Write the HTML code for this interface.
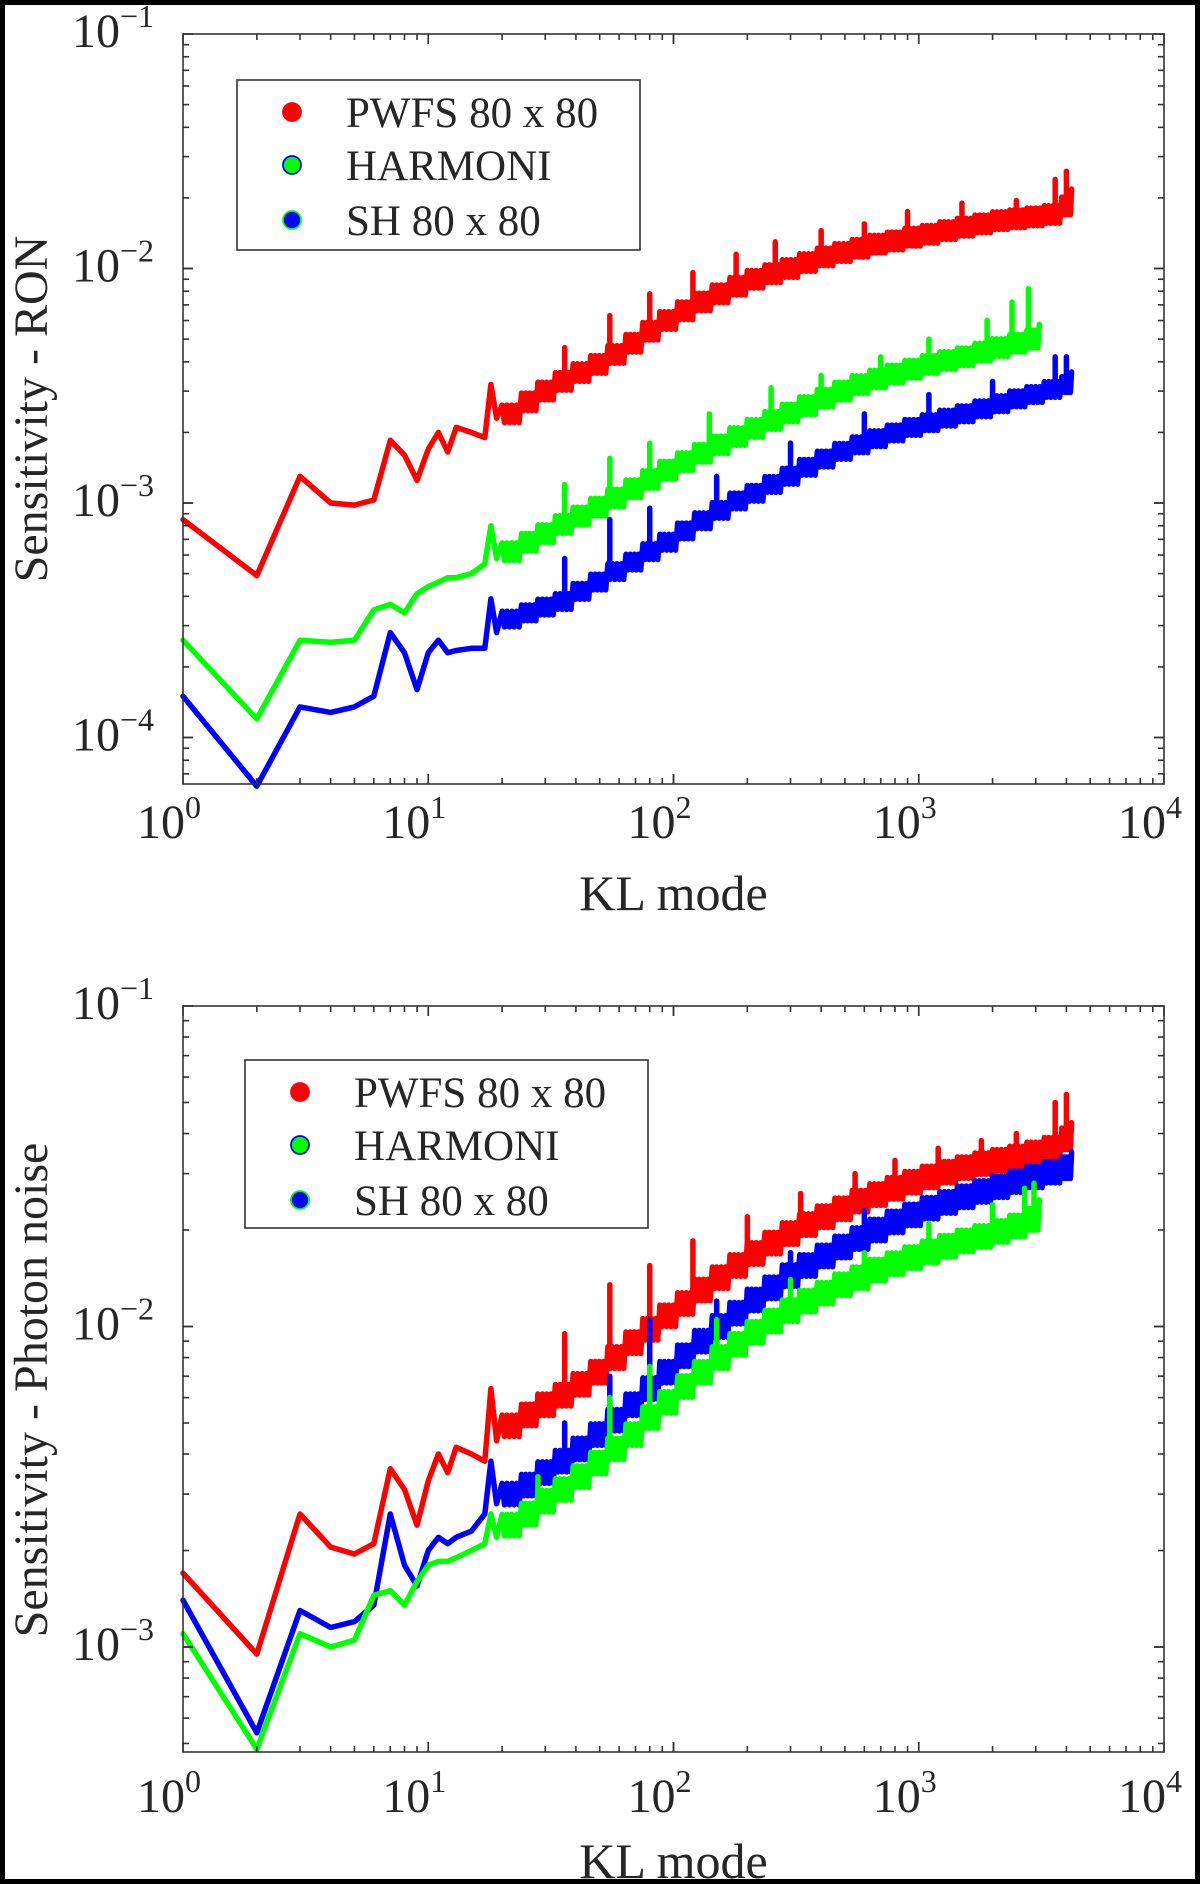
<!DOCTYPE html>
<html><head><meta charset="utf-8"><style>
html,body{margin:0;padding:0;background:#fff}
#wrap{position:relative;width:1200px;height:1884px;box-sizing:border-box;border:5px solid #000;overflow:hidden;background:#fff}
svg{position:absolute;left:-5px;top:-5px}
text{font-family:"Liberation Serif",serif;fill:#262626}
</style></head><body>
<div id="wrap">
<svg id="svg" width="1200" height="1884" viewBox="0 0 1200 1884" xmlns="http://www.w3.org/2000/svg"></svg>
</div>
<script>
// ---------- data ----------
const earlyModes = [1,2,3,4,5,6,7,8,9,10,11,12,13,15,17,18,19];
const denseModesLong = [20,24,28,33,39,46,54,64,75,88,104,122,144,170,200,236,278,327,386,455,536,632,745,878,1035,1220,1438,1695,2000,2350,2760,3250,3830,4200];
const denseModesShort = [20,24,28,33,39,46,54,64,75,88,104,122,144,170,200,236,278,327,386,455,536,632,745,878,1035,1220,1438,1695,2000,2350,2760,3100];

// Top: RON
const ronPwfsEarly = [8.5e-4,4.9e-4,1.3e-3,1.0e-3,9.8e-4,1.03e-3,1.85e-3,1.6e-3,1.25e-3,1.7e-3,2.0e-3,1.65e-3,2.1e-3,2.0e-3,1.9e-3,3.2e-3,2.3e-3];
const ronPwfsDense = [2.4e-3,2.7e-3,3.0e-3,3.3e-3,3.6e-3,3.9e-3,4.3e-3,4.8e-3,5.4e-3,6.0e-3,6.6e-3,7.2e-3,7.8e-3,8.4e-3,9.0e-3,9.5e-3,1.0e-2,1.06e-2,1.12e-2,1.17e-2,1.22e-2,1.27e-2,1.31e-2,1.36e-2,1.40e-2,1.45e-2,1.5e-2,1.55e-2,1.6e-2,1.63e-2,1.66e-2,1.7e-2,1.85e-2,2.0e-2];
const ronPwfsSpikeModes = [36,55,80,120,180,260,400,600,900,1500,2500,3600,4000];
const ronPwfsSpikeVals = [4.6e-3,6.3e-3,7.8e-3,9.6e-3,1.15e-2,1.3e-2,1.45e-2,1.55e-2,1.75e-2,1.9e-2,1.95e-2,2.4e-2,2.6e-2];
const ronHarmEarly = [2.6e-4,1.2e-4,2.6e-4,2.55e-4,2.6e-4,3.5e-4,3.7e-4,3.4e-4,4.1e-4,4.4e-4,4.6e-4,4.8e-4,4.8e-4,5.0e-4,5.5e-4,8.0e-4,5.8e-4];
const ronHarmDense = [6.2e-4,6.8e-4,7.4e-4,8.1e-4,8.8e-4,9.6e-4,1.05e-3,1.15e-3,1.26e-3,1.38e-3,1.5e-3,1.63e-3,1.77e-3,1.92e-3,2.08e-3,2.25e-3,2.42e-3,2.6e-3,2.8e-3,3.0e-3,3.2e-3,3.38e-3,3.55e-3,3.72e-3,3.9e-3,4.05e-3,4.2e-3,4.4e-3,4.6e-3,4.8e-3,5.0e-3,5.3e-3];
const ronHarmSpikeModes = [36,55,80,140,250,400,700,1100,1900,2400,2800];
const ronHarmSpikeVals = [1.2e-3,1.55e-3,1.8e-3,2.4e-3,3.1e-3,3.5e-3,4.2e-3,5.0e-3,6.0e-3,7.2e-3,8.2e-3];
const ronShEarly = [1.5e-4,6.2e-5,1.35e-4,1.28e-4,1.35e-4,1.5e-4,2.8e-4,2.3e-4,1.6e-4,2.3e-4,2.6e-4,2.3e-4,2.35e-4,2.4e-4,2.4e-4,3.9e-4,2.8e-4];
const ronShDense = [3.2e-4,3.4e-4,3.6e-4,3.8e-4,4.2e-4,4.6e-4,5.1e-4,5.6e-4,6.2e-4,6.8e-4,7.6e-4,8.4e-4,9.3e-4,1.02e-3,1.1e-3,1.2e-3,1.3e-3,1.42e-3,1.54e-3,1.66e-3,1.77e-3,1.88e-3,1.99e-3,2.1e-3,2.2e-3,2.3e-3,2.4e-3,2.52e-3,2.65e-3,2.78e-3,2.9e-3,3.05e-3,3.2e-3,3.35e-3];
const ronShSpikeModes = [36,55,80,150,300,600,1100,2000,3600,4000];
const ronShSpikeVals = [5.8e-4,8.5e-4,9.5e-4,1.3e-3,1.8e-3,2.4e-3,2.9e-3,3.3e-3,4.2e-3,4.2e-3];

// Bottom: photon noise
const phPwfsEarly = [1.7e-3,9.5e-4,2.6e-3,2.05e-3,1.95e-3,2.1e-3,3.6e-3,3.1e-3,2.4e-3,3.3e-3,4.0e-3,3.5e-3,4.2e-3,4.0e-3,3.8e-3,6.4e-3,4.4e-3];
const phPwfsDense = [4.9e-3,5.3e-3,5.7e-3,6.1e-3,6.6e-3,7.2e-3,8.0e-3,8.9e-3,9.8e-3,1.08e-2,1.18e-2,1.3e-2,1.42e-2,1.55e-2,1.69e-2,1.82e-2,1.95e-2,2.08e-2,2.2e-2,2.33e-2,2.46e-2,2.58e-2,2.7e-2,2.82e-2,2.93e-2,3.03e-2,3.13e-2,3.22e-2,3.3e-2,3.38e-2,3.48e-2,3.6e-2,3.85e-2,4.0e-2];
const phPwfsSpikeModes = [36,55,80,120,200,330,550,800,1200,1800,2500,3600,4000];
const phPwfsSpikeVals = [9.5e-3,1.35e-2,1.55e-2,1.85e-2,2.2e-2,2.6e-2,3.0e-2,3.3e-2,3.6e-2,3.8e-2,4.0e-2,5.0e-2,5.3e-2];
const phBlueEarly = [1.4e-3,5.4e-4,1.3e-3,1.15e-3,1.2e-3,1.35e-3,2.6e-3,1.8e-3,1.55e-3,2.0e-3,2.2e-3,2.1e-3,2.2e-3,2.3e-3,2.6e-3,3.8e-3,2.8e-3];
const phBlueDense = [3.0e-3,3.2e-3,3.5e-3,3.8e-3,4.15e-3,4.6e-3,5.1e-3,5.7e-3,6.4e-3,7.2e-3,8.1e-3,9.0e-3,1.0e-2,1.1e-2,1.21e-2,1.32e-2,1.44e-2,1.55e-2,1.66e-2,1.77e-2,1.88e-2,2.0e-2,2.12e-2,2.23e-2,2.34e-2,2.44e-2,2.54e-2,2.64e-2,2.73e-2,2.83e-2,2.93e-2,3.03e-2,3.13e-2,3.25e-2];
const phBlueSpikeModes = [36,55,80,150,300,600];
const phBlueSpikeVals = [5.0e-3,7.0e-3,1.05e-2,1.2e-2,1.7e-2,2.3e-2];
const phGreenEarly = [1.1e-3,4.8e-4,1.1e-3,1.0e-3,1.05e-3,1.45e-3,1.5e-3,1.35e-3,1.6e-3,1.8e-3,1.85e-3,1.85e-3,1.9e-3,2.0e-3,2.1e-3,2.6e-3,2.2e-3];
const phGreenDense = [2.4e-3,2.6e-3,2.85e-3,3.1e-3,3.4e-3,3.75e-3,4.15e-3,4.6e-3,5.2e-3,5.8e-3,6.5e-3,7.2e-3,8.0e-3,8.8e-3,9.6e-3,1.04e-2,1.12e-2,1.2e-2,1.27e-2,1.35e-2,1.42e-2,1.5e-2,1.57e-2,1.64e-2,1.71e-2,1.78e-2,1.85e-2,1.91e-2,1.98e-2,2.06e-2,2.16e-2,2.3e-2];
const phGreenSpikeModes = [28,55,80,150,300,600,1100,2000,2700,2950];
const phGreenSpikeVals = [3.4e-3,6.0e-3,7.5e-3,1.05e-2,1.4e-2,1.7e-2,2.1e-2,2.4e-2,2.7e-2,2.8e-2];

const xTickExps = [0,1,2,3,4];
const topYTickExps = [-4,-3,-2,-1];
const botYTickExps = [-3,-2,-1];
const legendLabels = ["PWFS 80 x 80","HARMONI","SH 80 x 80"];

// ---------- drawing ----------
const NS="http://www.w3.org/2000/svg";
const svg=document.getElementById('svg');
function mk(tag,attrs,parent){const e=document.createElementNS(NS,tag);for(const k in attrs)e.setAttribute(k,attrs[k]);(parent||svg).appendChild(e);return e;}

function makeAxes(cfg){
  const L=183,R=1164,T=cfg.top,B=cfg.bottom;
  const xs=m=>L+(Math.log10(m))/4*(R-L);
  const ys=v=>T+(cfg.yMaxExp-Math.log10(v))/(cfg.yMaxExp-cfg.yMinLog)*(B-T);
  const g=mk('g',{});
  
  
  return {L,R,T,B,xs,ys,g};
}

function drawFrame(ax,cfg){
  const {L,R,T,B,xs,ys,g}=ax;
  const fg=mk('g',{stroke:'#333','stroke-width':1.6,fill:'none'},g);
  
  
  mk('rect',{x:L,y:T,width:R-L,height:B-T},fg);
  for(let e=0;e<4;e++){for(let k=1;k<=10;k++){const m=k*Math.pow(10,e);const x=xs(m);if(x>R+0.5)continue;const len=(k===1||k===10)?10:6;
    mk('line',{x1:x,y1:B,x2:x,y2:B-len},fg);mk('line',{x1:x,y1:T,x2:x,y2:T+len},fg);}}
  for(let e=Math.floor(cfg.yMinLog);e<cfg.yMaxExp;e++){for(let k=1;k<=10;k++){const v=k*Math.pow(10,e);const y=ys(v);if(y>B+0.5||y<T-0.5)continue;const len=(k===1||k===10)?10:6;
    mk('line',{x1:L,y1:y,x2:L+len,y2:y},fg);mk('line',{x1:R,y1:y,x2:R-len,y2:y},fg);}}
  xTickExps.forEach(e=>{const t=mk('text',{x:xs(Math.pow(10,e))-14,y:cfg.xLabY,'font-size':48,'text-anchor':'middle'},g);
    
    t.textContent='10';const s=mk('tspan',{dy:-20,'font-size':32},t);s.textContent=String(e);});
  cfg.yTicks.forEach(e=>{const y=ys(Math.pow(10,e));const t=mk('text',{x:120,y:y+13,'font-size':48,'text-anchor':'end'},g);
    
    t.textContent='10';const s=mk('tspan',{x:120,dy:-20,'font-size':32,'text-anchor':'start'},t);s.textContent='\u2212'+String(-e);});
  const xl=mk('text',{x:(L+R)/2,y:cfg.xTitleY,'font-size':50,'text-anchor':'middle'},g);
  xl.textContent='KL mode';
  const yl=mk('text',{x:0,y:0,'font-size':48,'text-anchor':'middle',transform:`translate(47,${cfg.yTitleC}) rotate(-90)`},g);
  yl.textContent=cfg.yTitle;
}

function drawSeries(ax,early,denseM,denseV,spread,spM,spV,color,name){
  const {xs,ys,g}=ax;
  const sg=mk('g',{},g);
  
  
  const pts=[];
  earlyModes.forEach((m,i)=>pts.push([xs(m),ys(early[i])]));
  const sub=8;
  for(let i=0;i<denseM.length;i++){
    const x0=xs(denseM[i]);
    const x1=i<denseM.length-1?xs(denseM[i+1]):x0;
    const n=i<denseM.length-1?sub:1;
    for(let j=0;j<n;j++){
      const x=x0+(x1-x0)*j/n;
      const v=(j%2===0)?denseV[i]*spread:denseV[i]/spread;
      pts.push([x,ys(v)]);
    }
  }
  const p=mk('polyline',{points:pts.map(q=>q[0].toFixed(1)+','+q[1].toFixed(1)).join(' '),fill:'none',stroke:color,'stroke-width':5.5,'stroke-linejoin':'round','stroke-linecap':'round'},sg);
  
  
  spM.forEach((m,i)=>{
    let k=0;while(k<denseM.length-1&&denseM[k+1]<=m)k++;
    const x=xs(m);
    const s=mk('line',{x1:x,y1:ys(denseV[k]),x2:x,y2:ys(spV[i]),stroke:color,'stroke-width':5.5,'stroke-linecap':'round'},sg);
    
    
  });
}

function drawLegend(ax,box,markers){
  const lg=mk('g',{},ax.g);
  
  
  mk('rect',{x:box.x,y:box.y,width:box.w,height:box.h,fill:'#fff',stroke:'#333','stroke-width':1.6},lg);
  legendLabels.forEach((lab,i)=>{
    const ent=mk('g',{},lg);
    
    
    mk('circle',{cx:box.x+55,cy:box.rows[i],r:9,fill:markers[i][0],stroke:markers[i][1],'stroke-width':1.8},ent);
    const t=mk('text',{x:box.x+109,y:box.rows[i]+15,'font-size':43},ent);
    t.textContent=lab;
  });
}

const topCfg={name:'ron-chart',top:34,bottom:784,yMaxExp:-1,yMinLog:-1-(784-34)/234.5,yTicks:topYTickExps,xLabY:838,xTitleY:910,yTitleC:409,yTitle:'Sensitivity - RON'};
const axT=makeAxes(topCfg);
drawSeries(axT,ronPwfsEarly,denseModesLong,ronPwfsDense,1.09,ronPwfsSpikeModes,ronPwfsSpikeVals,'#ff0000','series-pwfs-ron');
drawSeries(axT,ronHarmEarly,denseModesShort,ronHarmDense,1.09,ronHarmSpikeModes,ronHarmSpikeVals,'#00ff00','series-harmoni-ron');
drawSeries(axT,ronShEarly,denseModesLong,ronShDense,1.08,ronShSpikeModes,ronShSpikeVals,'#0000ff','series-sh-ron');
drawFrame(axT,topCfg);
drawLegend(axT,{x:237,y:80,w:403,h:170,rows:[112,165,220]},[['#ff0000','#ff0000'],['#00ff00','#0000ff'],['#0000ff','#00ff00']]);

const botCfg={name:'photon-chart',top:1006,bottom:1752,yMaxExp:-1,yMinLog:-1-(1752-1006)/320.5,yTicks:botYTickExps,xLabY:1812,xTitleY:1878,yTitleC:1390,yTitle:'Sensitivity - Photon noise'};
const axB=makeAxes(botCfg);
drawSeries(axB,phPwfsEarly,denseModesLong,phPwfsDense,1.08,phPwfsSpikeModes,phPwfsSpikeVals,'#ff0000','series-pwfs-photon');
drawSeries(axB,phBlueEarly,denseModesLong,phBlueDense,1.08,phBlueSpikeModes,phBlueSpikeVals,'#0000ff','series-sh-photon');
drawSeries(axB,phGreenEarly,denseModesShort,phGreenDense,1.08,phGreenSpikeModes,phGreenSpikeVals,'#00ff00','series-harmoni-photon');
drawFrame(axB,botCfg);
drawLegend(axB,{x:245,y:1060,w:403,h:168,rows:[1092,1145,1200]},[['#ff0000','#ff0000'],['#00ff00','#0000ff'],['#0000ff','#00ff00']]);
</script>
</body></html>
